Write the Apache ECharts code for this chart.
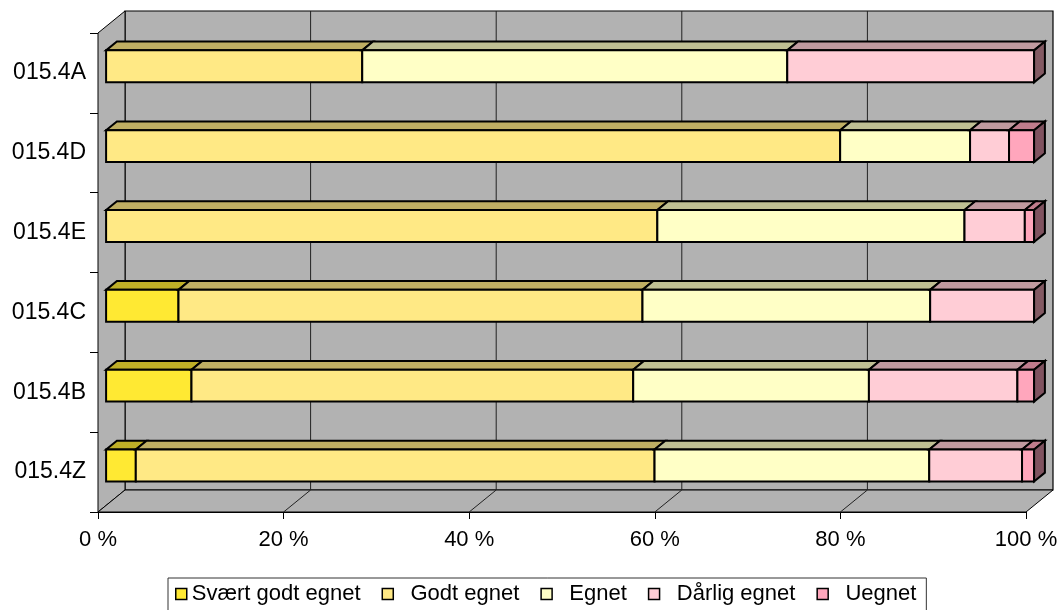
<!DOCTYPE html>
<html>
<head>
<meta charset="utf-8">
<script src="https://cdn.jsdelivr.net/npm/echarts@6/dist/echarts.min.js"></script>
<style>
  html, body { margin: 0; padding: 0; background: #ffffff; }
  #chart { width: 1061px; height: 610px; }
</style>
</head>
<body>
<div id="chart"></div>
<script>
// Rows, listed top to bottom
const categories = ['015.4A', '015.4D', '015.4E', '015.4C', '015.4B', '015.4Z'];
const seriesNames = ['Svært godt egnet', 'Godt egnet', 'Egnet', 'Dårlig egnet', 'Uegnet'];

// Share of answers per row, in percent
const svaertGodtEgnet = [0.0, 0.0, 0.0, 7.8, 9.2, 3.2];
const godtEgnet       = [27.6, 79.1, 59.4, 50.0, 47.6, 55.9];
const egnet           = [45.8, 14.0, 33.1, 31.0, 25.4, 29.6];
const daarligEgnet    = [26.6, 4.2, 6.5, 11.2, 16.0, 10.0];
const uegnet          = [0.0, 2.7, 1.0, 0.0, 1.8, 1.3];

const xTickValues = [0, 20, 40, 60, 80, 100];

const seriesValues = [svaertGodtEgnet, godtEgnet, egnet, daarligEgnet, uegnet];

// Face colours: front, top (shaded) and right end (dark)
const FRONT = ['#FFE933', '#FFE985', '#FFFFC6', '#FFCDD6', '#FFA6BC'];
const TOP   = ['#BFAF27', '#BFAE63', '#BFBF93', '#C09A9F', '#C07C8C'];
const SIDE  = ['#80751A', '#807542', '#808063', '#835A63', '#805360'];

// Oblique projection of the box: full depth shift, and where the bars sit in it
const DEPTH_X = 27, DEPTH_Y = -22;
const BAR_NEAR = 0.30, BAR_FAR = 0.70;
const BAR_RATIO = 0.40;
const WALL = '#B2B2B2';

// Stacked extents per series and row: [rowIndex, start, end, isLastVisible]
function buildStack() {
  const out = seriesValues.map(() => []);
  categories.forEach((_, r) => {
    let acc = 0;
    let lastIdx = -1;
    seriesValues.forEach((vals, s) => { if (vals[r] > 0) lastIdx = s; });
    seriesValues.forEach((vals, s) => {
      const start = acc;
      acc += vals[r];
      out[s].push([r, start, acc, s === lastIdx ? 1 : 0]);
    });
  });
  return out;
}
const stacked = buildStack();

function shift(p, f) {
  return [p[0] + DEPTH_X * f, p[1] + DEPTH_Y * f];
}

function renderWalls(params, api) {
  const cs = params.coordSys;
  const x0 = cs.x, x1 = cs.x + cs.width;
  const yTop = cs.y, yBot = cs.y + cs.height;
  const bx0 = x0 + DEPTH_X, bx1 = x1 + DEPTH_X;
  const byTop = yTop + DEPTH_Y, byBot = yBot + DEPTH_Y;
  const children = [];
  // back wall
  children.push({
    type: 'rect',
    shape: { x: bx0, y: byTop, width: cs.width, height: cs.height },
    style: { fill: WALL, stroke: '#000', lineWidth: 1.2 }
  });
  // left wall
  children.push({
    type: 'polygon',
    shape: { points: [[x0, yTop], [bx0, byTop], [bx0, byBot], [x0, yBot]] },
    style: { fill: WALL, stroke: '#000', lineWidth: 1 }
  });
  // floor
  children.push({
    type: 'polygon',
    shape: { points: [[x0, yBot], [bx0, byBot], [bx1, byBot], [x1, yBot]] },
    style: { fill: WALL, stroke: '#000', lineWidth: 1 }
  });
  // grid lines on the back wall and across the floor
  xTickValues.forEach((v) => {
    if (v === xTickValues[0] || v === xTickValues[xTickValues.length - 1]) return;
    const fx = api.coord([v, 0])[0];
    children.push({
      type: 'polyline',
      shape: { points: [[fx + DEPTH_X, byTop], [fx + DEPTH_X, byBot], [fx, yBot]] },
      style: { fill: null, stroke: '#222', lineWidth: 1 }
    });
  });
  return { type: 'group', children: children };
}

function makeSegmentRenderer(s) {
  return function (params, api) {
    const row = api.value(0);
    const start = api.value(1);
    const end = api.value(2);
    const isLast = api.value(3);
    if (!(end - start > 0)) return null;
    const band = api.size([0, 1])[1];
    const h = band * BAR_RATIO;
    const a = api.coord([start, row]);
    const b = api.coord([end, row]);
    const fa = shift(a, BAR_NEAR), fb = shift(b, BAR_NEAR);
    const top = fa[1] - h / 2, bot = fa[1] + h / 2;
    const dx = DEPTH_X * (BAR_FAR - BAR_NEAR), dy = DEPTH_Y * (BAR_FAR - BAR_NEAR);
    const line = { stroke: '#000', lineWidth: 2, lineJoin: 'miter' };
    const children = [
      {
        type: 'polygon',
        shape: { points: [[fa[0], top], [fa[0] + dx, top + dy], [fb[0] + dx, top + dy], [fb[0], top]] },
        style: Object.assign({ fill: TOP[s] }, line)
      },
      {
        type: 'rect',
        shape: { x: fa[0], y: top, width: fb[0] - fa[0], height: h },
        style: Object.assign({ fill: FRONT[s] }, line)
      }
    ];
    if (isLast) {
      children.push({
        type: 'polygon',
        shape: { points: [[fb[0], top], [fb[0] + dx, top + dy], [fb[0] + dx, bot + dy], [fb[0], bot]] },
        style: Object.assign({ fill: SIDE[s] }, line)
      });
    }
    return { type: 'group', children: children };
  };
}

const FONT = 'Liberation Sans, Arial, sans-serif';

const series = [{
  type: 'custom',
  name: '_walls',
  silent: true,
  z: 1,
  data: [[0, 0]],
  encode: { x: 0, y: 1 },
  renderItem: renderWalls
}];
seriesNames.forEach((name, s) => {
  series.push({
    type: 'custom',
    name: name,
    z: 2,
    itemStyle: { color: FRONT[s] },
    data: stacked[s],
    encode: { x: [1, 2], y: 0 },
    renderItem: makeSegmentRenderer(s)
  });
});

const chart = echarts.init(document.getElementById('chart'), null, { renderer: 'canvas' });
chart.setOption({
  animation: false,
  backgroundColor: '#ffffff',
  grid: { left: 98, top: 33, right: 35, bottom: 98, containLabel: false },
  xAxis: {
    type: 'value',
    min: 0, max: 100, interval: 20,
    axisLine: { show: true, lineStyle: { color: '#000', width: 1 } },
    axisTick: { show: true, length: 7, lineStyle: { color: '#000' } },
    splitLine: { show: false },
    axisLabel: { formatter: '{value} %', color: '#000', fontFamily: FONT, fontSize: 22, margin: 17 }
  },
  yAxis: {
    type: 'category',
    data: categories,
    inverse: true,
    axisLine: { show: true, lineStyle: { color: '#000', width: 1 } },
    axisTick: { show: true, length: 8, lineStyle: { color: '#000' } },
    splitLine: { show: false },
    axisLabel: { color: '#000', fontFamily: FONT, fontSize: 23, margin: 12 }
  },
  legend: {
    data: seriesNames,
    left: 168, top: 578,
    padding: [5, 10, 6, 7],
    borderColor: '#333', borderWidth: 1,
    icon: 'rect',
    itemWidth: 11, itemHeight: 11,
    itemGap: 21,
    itemStyle: { borderColor: '#000', borderWidth: 1.5 },
    formatter: (name) => (name === seriesNames[0] ? name : '  ' + name),
    textStyle: { color: '#000', fontFamily: FONT, fontSize: 22 }
  },
  series: series
});
</script>
</body>
</html>
